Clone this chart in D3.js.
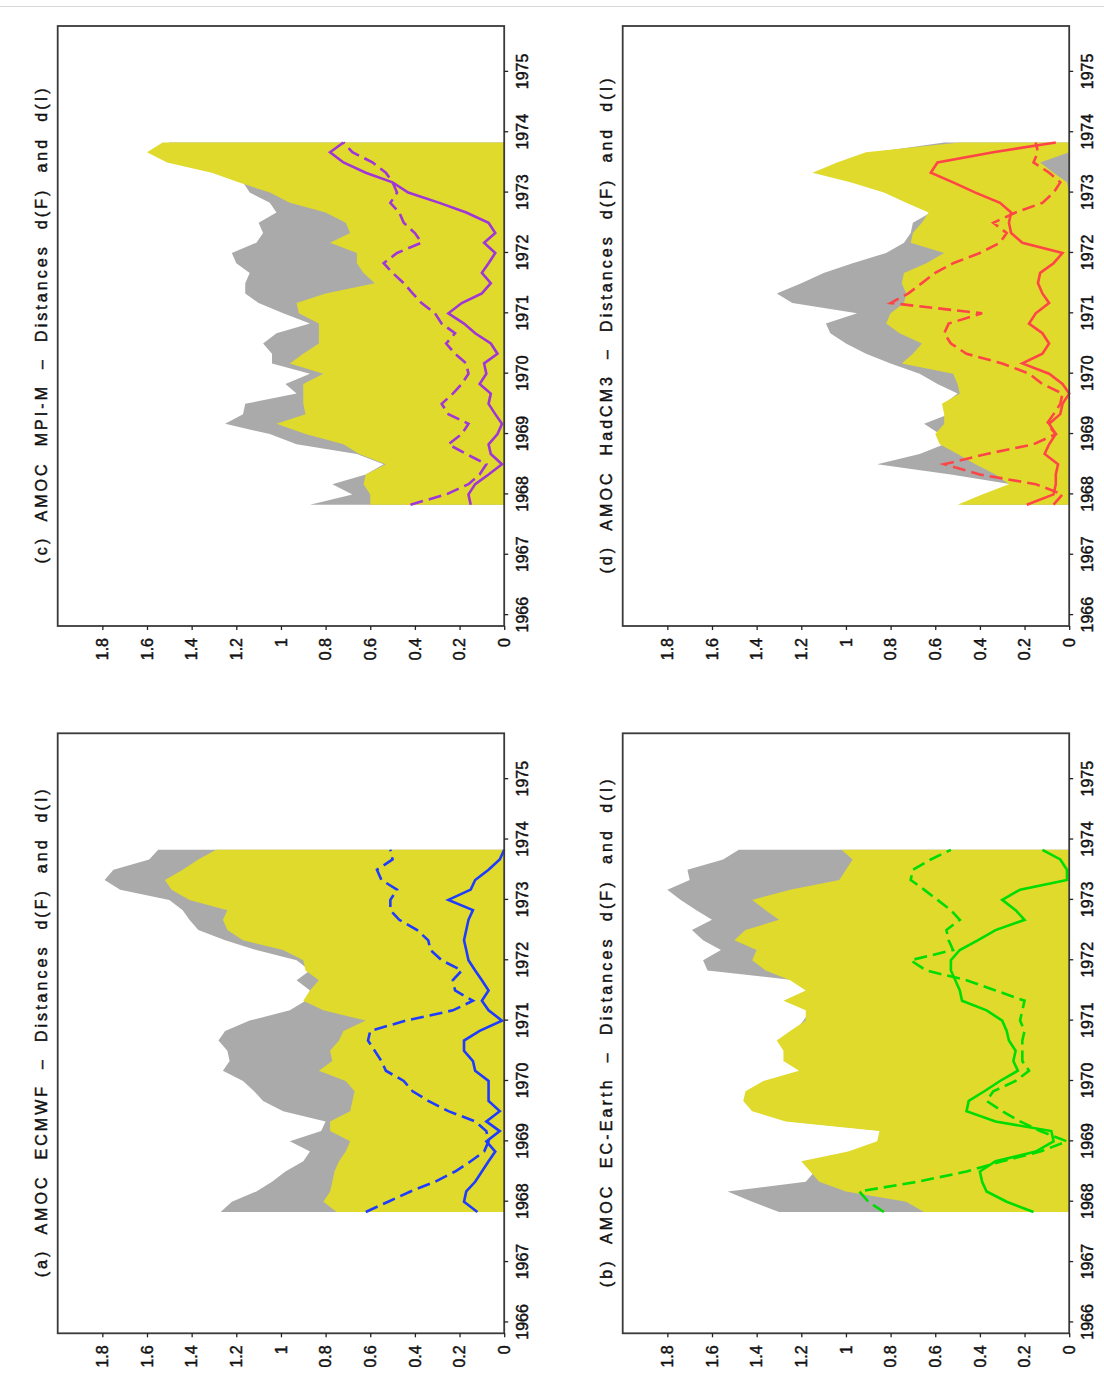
<!DOCTYPE html>
<html>
<head>
<meta charset="utf-8">
<title>AMOC distances d(F) and d(I)</title>
<script src="https://cdn.jsdelivr.net/npm/d3@7"></script>
<style>
  body { margin: 0; background: #fff; }
  svg text { font-family: "Liberation Sans", Arial, sans-serif; fill: #111; stroke: #111; stroke-width: 0.45px; }
  .title { font-size: 16px; white-space: pre; }
  .tick text { font-size: 16px; }
</style>
</head>
<body>
<svg id="chart"></svg>
<script>
var W = 1104, H = 1388;

// time grid (decimal years, every 2 months)
var months = [1967.83, 1968.00, 1968.17, 1968.33, 1968.50, 1968.67, 1968.83, 1969.00, 1969.17, 1969.33,
              1969.50, 1969.67, 1969.83, 1970.00, 1970.17, 1970.33, 1970.50, 1970.67, 1970.83, 1971.00,
              1971.17, 1971.33, 1971.50, 1971.67, 1971.83, 1972.00, 1972.17, 1972.33, 1972.50, 1972.67,
              1972.83, 1973.00, 1973.17, 1973.33, 1973.50, 1973.67, 1973.83];
var yearTicks = [1966, 1967, 1968, 1969, 1970, 1971, 1972, 1973, 1974, 1975];
var valueTicks = [0, 0.2, 0.4, 0.6, 0.8, 1, 1.2, 1.4, 1.6, 1.8];

// (a) ECMWF
var ecmwfGrey   = [1.27, 1.22, 1.11, 1.04, 0.98, 0.90, 0.87, 0.96, 0.82, 0.80, 0.99, 1.08, 1.12, 1.17, 1.26, 1.23, 1.24, 1.28, 1.25, 1.14, 0.96, 0.89, 0.87, 0.93, 0.87, 0.93, 1.11, 1.25, 1.37, 1.41, 1.44, 1.50, 1.72, 1.79, 1.75, 1.59, 1.55];
var ecmwfYellow = [0.75, 0.81, 0.78, 0.77, 0.76, 0.74, 0.71, 0.69, 0.78, 0.78, 0.69, 0.68, 0.67, 0.71, 0.83, 0.77, 0.78, 0.74, 0.72, 0.62, 0.81, 0.90, 0.87, 0.83, 0.89, 0.90, 0.99, 1.17, 1.24, 1.26, 1.24, 1.41, 1.49, 1.52, 1.44, 1.37, 1.29];
var ecmwfSolid  = [0.12, 0.18, 0.17, 0.13, 0.10, 0.07, 0.04, 0.08, 0.02, 0.08, 0.02, 0.07, 0.07, 0.07, 0.13, 0.14, 0.18, 0.18, 0.11, 0.01, 0.07, 0.10, 0.07, 0.10, 0.13, 0.16, 0.17, 0.18, 0.17, 0.16, 0.14, 0.25, 0.15, 0.13, 0.07, 0.02, 0.00];
var ecmwfDashed = [0.62, 0.52, 0.42, 0.31, 0.22, 0.15, 0.09, 0.07, 0.08, 0.13, 0.25, 0.34, 0.41, 0.45, 0.53, 0.55, 0.58, 0.61, 0.60, 0.44, 0.23, 0.14, 0.22, 0.23, 0.19, 0.28, 0.33, 0.34, 0.39, 0.47, 0.51, 0.51, 0.48, 0.55, 0.57, 0.50, 0.51];

// (b) EC-Earth
var ecearthGrey   = [1.30, 1.42, 1.53, 1.18, 1.14, 1.18, 0.97, 0.84, 0.83, 1.25, 1.40, 1.44, 1.43, 1.35, 1.19, 1.26, 1.26, 1.29, 1.23, 1.19, 1.16, 1.26, 1.16, 1.23, 1.62, 1.64, 1.56, 1.64, 1.69, 1.60, 1.67, 1.74, 1.80, 1.70, 1.71, 1.55, 1.48];
var ecearthYellow = [0.65, 0.73, 1.00, 1.12, 1.16, 1.20, 0.99, 0.86, 0.85, 1.27, 1.42, 1.46, 1.45, 1.37, 1.21, 1.28, 1.28, 1.31, 1.25, 1.18, 1.18, 1.28, 1.18, 1.25, 1.36, 1.42, 1.40, 1.50, 1.45, 1.30, 1.36, 1.42, 1.25, 1.03, 1.00, 0.97, 1.02];
var ecearthSolid  = [0.16, 0.28, 0.37, 0.39, 0.40, 0.33, 0.15, 0.07, 0.08, 0.33, 0.46, 0.45, 0.38, 0.31, 0.23, 0.25, 0.24, 0.27, 0.28, 0.30, 0.37, 0.48, 0.49, 0.51, 0.53, 0.53, 0.49, 0.41, 0.33, 0.20, 0.24, 0.30, 0.22, 0.01, 0.01, 0.04, 0.12];
var ecearthDashed = [0.83, 0.90, 0.94, 0.68, 0.46, 0.30, 0.13, 0.01, 0.13, 0.22, 0.30, 0.37, 0.34, 0.24, 0.18, 0.21, 0.21, 0.21, 0.20, 0.22, 0.21, 0.20, 0.33, 0.46, 0.64, 0.71, 0.52, 0.54, 0.55, 0.49, 0.53, 0.59, 0.65, 0.71, 0.70, 0.62, 0.53];

// (c) MPI-M
var mpiGrey   = [0.87, 0.68, 0.77, 0.62, 0.54, 0.66, 0.93, 1.05, 1.25, 1.17, 1.16, 0.93, 0.98, 0.87, 1.04, 1.04, 1.08, 1.02, 0.87, 0.99, 1.10, 1.16, 1.16, 1.14, 1.20, 1.22, 1.11, 1.08, 1.10, 1.02, 1.05, 1.14, 1.17, 1.28, 1.45, 1.55, 1.50];
var mpiYellow = [0.60, 0.60, 0.63, 0.62, 0.53, 0.65, 0.72, 0.89, 1.02, 0.89, 0.90, 0.90, 0.90, 0.81, 0.96, 0.90, 0.83, 0.83, 0.83, 0.92, 0.93, 0.80, 0.58, 0.63, 0.66, 0.66, 0.78, 0.69, 0.71, 0.80, 0.96, 1.05, 1.19, 1.31, 1.51, 1.60, 1.53];
var mpiSolid  = [0.15, 0.16, 0.13, 0.07, 0.01, 0.06, 0.07, 0.03, 0.01, 0.04, 0.07, 0.06, 0.11, 0.08, 0.09, 0.03, 0.06, 0.13, 0.18, 0.25, 0.19, 0.10, 0.06, 0.10, 0.07, 0.04, 0.09, 0.04, 0.07, 0.17, 0.29, 0.43, 0.50, 0.62, 0.72, 0.78, 0.72];
var mpiDashed = [0.42, 0.26, 0.16, 0.11, 0.08, 0.17, 0.25, 0.19, 0.16, 0.25, 0.28, 0.23, 0.19, 0.16, 0.17, 0.22, 0.26, 0.22, 0.28, 0.31, 0.37, 0.41, 0.45, 0.50, 0.54, 0.48, 0.37, 0.40, 0.45, 0.47, 0.51, 0.48, 0.50, 0.53, 0.59, 0.68, 0.72];

// (d) HadCM3
var hadGrey       = [0.48, 0.37, 0.26, 0.53, 0.86, 0.67, 0.56, 0.58, 0.65, 0.54, 0.56, 0.50, 0.59, 0.67, 0.80, 0.91, 1.00, 1.07, 1.09, 0.95, 1.24, 1.31, 1.20, 1.10, 0.97, 0.82, 0.74, 0.71, 0.70, 0.62, 0.70, 0.80, 0.95, 1.10, 1.00, 0.87, 0.56];
var hadYellow     = [0.50, 0.39, 0.27, 0.33, 0.42, 0.50, 0.58, 0.60, 0.56, 0.56, 0.57, 0.49, 0.50, 0.52, 0.75, 0.70, 0.66, 0.76, 0.82, 0.80, 0.74, 0.73, 0.75, 0.74, 0.64, 0.56, 0.71, 0.70, 0.66, 0.63, 0.73, 0.83, 0.98, 1.15, 1.04, 0.91, 0.49];
var hadYellowBase = [0, 0, 0, 0, 0, 0, 0, 0, 0, 0, 0, 0, 0, 0, 0, 0, 0, 0, 0, 0, 0, 0, 0, 0, 0, 0, 0, 0, 0, 0, 0, 0, 0.01, 0.07, 0.13, 0, 0];
var hadSolid      = [0.19, 0.07, 0.06, 0.06, 0.05, 0.11, 0.09, 0.06, 0.09, 0.04, 0.03, 0.00, 0.03, 0.09, 0.21, 0.12, 0.09, 0.12, 0.18, 0.15, 0.09, 0.12, 0.14, 0.13, 0.07, 0.03, 0.21, 0.26, 0.27, 0.26, 0.31, 0.42, 0.52, 0.62, 0.59, 0.34, 0.06];
var hadDashed     = [0.07, 0.03, 0.15, 0.40, 0.56, 0.37, 0.16, 0.06, 0.10, 0.07, 0.04, 0.03, 0.12, 0.18, 0.30, 0.46, 0.53, 0.56, 0.54, 0.39, 0.80, 0.72, 0.66, 0.60, 0.52, 0.40, 0.31, 0.28, 0.34, 0.24, 0.12, 0.07, 0.04, 0.09, 0.16, 0.14, 0.15];

var titles = ["(a)  AMOC  ECMWF  \u2013  Distances  d(F)  and  d(I)",
              "(b)  AMOC  EC-Earth  \u2013  Distances  d(F)  and  d(I)",
              "(c)  AMOC  MPI-M  \u2013  Distances  d(F)  and  d(I)",
              "(d)  AMOC  HadCM3  \u2013  Distances  d(F)  and  d(I)"];
var lineColors = ["#1e3cff", "#00dc00", "#a035d8", "#ff4646"];

// layout in the unrotated frame (the whole figure is turned 90 deg counter-clockwise)
var pw = 600, ph = 446.5;
var panels = [
  {left: 54.7, top: 57.7,  grey: ecmwfGrey,   yellow: ecmwfYellow,   solid: ecmwfSolid,   dashed: ecmwfDashed,   title: titles[0], color: lineColors[0], tlen: 488},
  {left: 54.7, top: 622.7, grey: ecearthGrey, yellow: ecearthYellow, solid: ecearthSolid, dashed: ecearthDashed, title: titles[1], color: lineColors[1], tlen: 508},
  {left: 762,  top: 57.7,  grey: mpiGrey,     yellow: mpiYellow,     solid: mpiSolid,     dashed: mpiDashed,     title: titles[2], color: lineColors[2], tlen: 475},
  {left: 762,  top: 622.7, grey: hadGrey,     yellow: hadYellow,     solid: hadSolid,     dashed: hadDashed,     title: titles[3], color: lineColors[3], tlen: 495, base: hadYellowBase}
];

var svg = d3.select("#chart").attr("width", W).attr("height", H);

svg.append("line")
  .attr("x1", 0).attr("x2", W).attr("y1", 6.5).attr("y2", 6.5)
  .attr("stroke", "#d8d8d8").attr("stroke-width", 1);

var fig = svg.append("g").attr("transform", "translate(0," + H + ") rotate(-90)");

var x = d3.scaleLinear().domain([1965.82, 1975.76]).range([0, pw]);
var y = d3.scaleLinear().domain([0, 2]).range([ph, 0]);

panels.forEach(function(p) {
  var g = fig.append("g").attr("transform", "translate(" + p.left + "," + p.top + ")");

  var greyArea = d3.area()
    .x(function(d, i) { return x(months[i]); })
    .y0(y(0))
    .y1(function(d) { return y(d); });
  g.append("path").datum(p.grey).attr("d", greyArea).attr("fill", "#aaaaaa");

  var yellowArea = d3.area()
    .x(function(d, i) { return x(months[i]); })
    .y0(function(d, i) { return y(p.base ? p.base[i] : 0); })
    .y1(function(d) { return y(d); });
  g.append("path").datum(p.yellow).attr("d", yellowArea).attr("fill", "#e0da2c");

  var line = d3.line()
    .x(function(d, i) { return x(months[i]); })
    .y(function(d) { return y(d); });
  g.append("path").datum(p.dashed).attr("d", line)
    .attr("fill", "none").attr("stroke", p.color).attr("stroke-width", 2.6)
    .attr("stroke-dasharray", "13,6");
  g.append("path").datum(p.solid).attr("d", line)
    .attr("fill", "none").attr("stroke", p.color).attr("stroke-width", 2.6);

  g.append("rect").attr("width", pw).attr("height", ph)
    .attr("fill", "none").attr("stroke", "#3a3a3a").attr("stroke-width", 1.8);

  var xAxis = g.append("g").attr("transform", "translate(0," + ph + ")")
    .call(d3.axisBottom(x).tickValues(yearTicks).tickSize(4).tickPadding(8.5).tickFormat(d3.format("d")));
  var yAxis = g.append("g")
    .call(d3.axisLeft(y).tickValues(valueTicks).tickSize(4).tickPadding(8).tickFormat(d3.format(".1~f")));
  [xAxis, yAxis].forEach(function(a) {
    a.select(".domain").remove();
    a.selectAll(".tick line").attr("stroke", "#222").attr("stroke-width", 1.3);
    a.selectAll(".tick text").attr("fill", "#111").style("font-family", "Liberation Sans, Arial, sans-serif");
  });

  g.append("text").attr("class", "title")
    .attr("x", pw / 2).attr("y", -11)
    .attr("text-anchor", "middle")
    .attr("textLength", p.tlen).attr("lengthAdjust", "spacing")
    .text(p.title);
});
</script>
</body>
</html>
